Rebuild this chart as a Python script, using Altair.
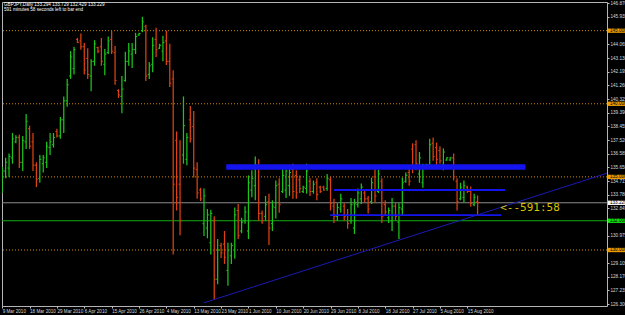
import altair as alt
import pandas as pd

# ---------------- data ----------------
opens = [134.3, 135.4, 135.6, 136.3, 137.4, 137.7, 136.0, 137.4, 138.3, 137.4,
         135.8, 134.9, 135.9, 136.0, 137.0, 137.2, 138.1, 137.8, 138.9, 140.2,
         141.9, 142.4, 144.4, 144.3, 143.9, 143.1, 141.9, 142.9, 143.85, 143.9,
         142.7, 143.5, 144.4, 143.5, 140.9, 140.5, 141.6, 142.9, 143.4, 143.7,
         144.7, 145.0, 145.3, 142.0, 142.7, 144.4, 143.8, 143.6, 144.3, 142.9,
         141.7, 137.5, 134.5, 136.5, 136.2, 138.9, 138.45, 135.5, 134.1, 131.8,
         131.5, 130.5, 132.0, 128.0, 130.3, 130.4, 128.6, 129.6, 130.0, 132.7,
         131.3, 132.0, 131.3, 134.1, 134.4, 135.7, 132.5, 132.3, 133.3, 131.8,
         132.9, 134.5, 134.0, 134.1, 134.4, 135.5, 135.1, 134.8, 134.0, 134.2,
         134.7, 134.0, 134.6, 134.3, 134.3, 134.2, 134.8, 133.0, 132.3, 132.8,
         133.0, 132.4, 132.0, 131.5, 133.1, 133.5, 133.9, 133.5, 133.3, 135.0,
         134.0, 134.7, 133.1, 132.2, 132.0, 133.0, 131.9, 132.8, 134.7, 135.3,
         136.9, 137.2, 135.2, 134.6, 135.6, 135.8, 137.3, 137.0, 136.8, 135.8,
         136.15, 136.15, 136.3, 134.7, 133.5, 133.6, 134.3, 134.0, 133.1, 133.294]
highs = [135.7, 136.3, 136.6, 138.0, 137.85, 137.9, 137.8, 139.3, 138.5, 138.0,
         136.0, 136.5, 136.5, 137.4, 138.0, 138.0, 138.3, 139.1, 140.5, 141.7,
         143.6, 143.9, 144.5, 144.8, 144.15, 143.8, 143.05, 144.35, 143.9, 144.5,
         143.75, 144.6, 145.0, 143.95, 141.0, 141.9, 143.55, 144.15, 144.15, 144.85,
         144.85, 145.95, 145.4, 142.85, 144.55, 145.2, 144.1, 144.65, 145.0, 144.1,
         142.3, 138.1, 137.5, 140.5, 138.0, 139.85, 139.5, 136.0, 134.25, 134.2,
         132.8, 132.75, 132.3, 130.75, 130.5, 131.3, 130.5, 130.5, 132.9, 133.15,
         132.2, 133.0, 135.1, 135.45, 136.4, 136.2, 132.7, 133.7, 133.85, 133.4,
         134.75, 134.9, 135.55, 135.75, 135.6, 135.9, 135.45, 135.1, 134.4, 135.9,
         134.9, 134.75, 134.9, 134.4, 134.4, 135.2, 135.0, 133.5, 133.2, 133.85,
         133.2, 132.8, 133.55, 133.5, 134.2, 134.55, 134.05, 133.7, 134.95, 135.6,
         135.5, 134.9, 133.4, 132.9, 133.55, 133.2, 133.2, 134.95, 135.3, 135.55,
         137.3, 137.5, 136.7, 135.9, 135.9, 137.6, 137.7, 137.35, 137.1, 136.95,
         136.35, 136.35, 136.6, 134.9, 134.6, 134.75, 134.4, 134.35, 133.85, 133.729]
lows = [133.9, 134.9, 135.0, 135.9, 137.3, 135.6, 135.4, 136.9, 136.9, 135.4,
        134.3, 134.6, 135.3, 135.6, 136.5, 137.0, 137.7, 137.6, 138.0, 139.8,
        141.7, 142.0, 144.15, 143.7, 142.0, 141.7, 140.85, 142.6, 143.45, 142.6,
        141.95, 143.4, 143.4, 141.3, 140.4, 139.35, 141.5, 142.6, 142.45, 143.4,
        144.65, 144.9, 141.55, 141.7, 142.15, 143.2, 143.75, 142.9, 142.65, 141.15,
        129.7, 132.7, 131.0, 135.9, 135.8, 137.35, 134.95, 133.5, 133.35, 130.95,
        130.8, 129.7, 126.6, 127.65, 129.45, 129.05, 127.55, 129.05, 129.4, 130.75,
        131.15, 131.8, 130.75, 133.6, 133.4, 132.0, 131.8, 132.0, 130.35, 131.3,
        132.15, 132.55, 133.9, 133.55, 133.7, 133.5, 133.5, 133.9, 133.9, 133.85,
        133.7, 133.85, 133.4, 133.9, 134.05, 134.05, 132.7, 131.85, 132.0, 132.55,
        132.0, 131.45, 131.8, 131.1, 132.9, 133.15, 133.25, 132.5, 133.15, 133.25,
        133.9, 131.85, 132.35, 131.85, 131.3, 132.0, 130.75, 132.35, 134.6, 134.4,
        135.25, 135.45, 134.6, 134.25, 135.55, 135.6, 136.1, 135.8, 135.9, 135.45,
        136.1, 136.1, 134.75, 132.7, 133.4, 133.25, 133.9, 132.95, 133.0, 132.429]
closes = [135.4, 136.0, 136.4, 137.6, 137.7, 136.0, 137.5, 138.8, 137.1, 135.8,
          134.8, 136.2, 136.3, 137.1, 137.4, 137.7, 137.8, 138.9, 140.2, 141.3,
          143.2, 143.7, 144.2, 143.9, 142.3, 142.0, 142.9, 144.1, 143.6, 142.9,
          143.4, 144.3, 143.6, 141.6, 140.6, 141.0, 142.9, 143.6, 143.7, 144.6,
          144.8, 145.6, 141.9, 142.6, 144.0, 143.7, 144.0, 144.2, 142.9, 141.4,
          134.5, 133.6, 132.0, 138.5, 137.7, 137.6, 135.6, 133.9, 133.5, 133.7,
          132.4, 132.5, 128.0, 130.0, 129.8, 129.5, 130.0, 130.3, 132.4, 131.0,
          131.9, 132.6, 134.6, 134.9, 135.8, 132.5, 132.0, 133.1, 131.5, 133.0,
          134.4, 133.1, 135.1, 135.4, 135.3, 134.0, 133.9, 134.2, 134.3, 135.4,
          134.0, 134.5, 133.8, 134.0, 134.1, 134.9, 133.2, 132.3, 132.9, 133.5,
          132.3, 131.8, 133.1, 133.2, 133.9, 134.3, 133.5, 132.8, 134.6, 133.7,
          135.2, 132.3, 132.6, 132.7, 133.0, 132.3, 132.9, 134.6, 135.1, 134.7,
          135.6, 135.9, 136.3, 135.6, 135.8, 137.2, 136.4, 136.2, 136.1, 136.7,
          136.3, 136.3, 135.0, 133.3, 134.3, 134.4, 134.0, 133.2, 133.6, 133.229]

date_ticks = [0, 8, 16, 24, 32, 40, 48, 56, 64, 72, 80, 88, 96, 104, 112, 120, 128, 136]
date_labels = ["9 Mar 2010", "18 Mar 2010", "29 Mar 2010", "6 Apr 2010", "15 Apr 2010",
               "26 Apr 2010", "4 May 2010", "13 May 2010", "23 May 2010", "1 Jun 2010",
               "10 Jun 2010", "20 Jun 2010", "29 Jun 2010", "8 Jul 2010", "18 Jul 2010",
               "27 Jul 2010", "5 Aug 2010", "15 Aug 2010"]

price_ticks = [126.300, 127.235, 128.170, 129.105, 130.975, 132.845, 133.780, 134.715,
               135.650, 136.585, 137.520, 138.455, 139.390, 140.325, 141.260, 142.195,
               143.130, 144.065, 145.935, 146.870]

round_levels = [145.0, 140.0, 135.0, 130.0]
bid_price = 133.229
alert_price = 132.0

# drawn objects (bar index, price)
zone_k1 = [65.5, 97.0, 95.9]
zone_k2 = [153.0, 147.0, 145.9]
zone_lo = [135.49, 134.03, 132.32]
zone_hi = [135.86, 134.17, 132.45]
trend_k = [59.0, 176.84]
trend_p = [126.39, 135.25]

header1 = "GBPJPY,Daily  133.294 133.729 132.429 133.229"
header2 = "591 minutes 58 seconds left to bar end"
countdown = "<--591:58"

# ---------------- styling ----------------
GREEN = "#1cc41c"
RED = "#dc4212"
ORANGE = "#d08a00"
FONT = "Liberation Sans"
FS = 4.6

n = len(opens)
bars = pd.DataFrame({
    "k": list(range(n)), "o": opens, "h": highs, "l": lows, "c": closes,
})
bars["dir"] = ["up" if c >= o else "down" for o, c in zip(opens, closes)]
bars["kl"] = bars["k"] - 0.45
bars["kr"] = bars["k"] + 0.45

xs = alt.Scale(domain=[-0.06, 176.84], nice=False, zero=False)
ys = alt.Scale(domain=[126.17, 146.96], nice=False, zero=False)

label_expr = "[" + ",".join("'%s'" % s for s in date_labels) + "][indexof([" + \
    ",".join(str(t) for t in date_ticks) + "], datum.value)]"

x_axis = alt.Axis(values=date_ticks, labelExpr=label_expr, orient="bottom", title=None,
                  labelAlign="left", labelBaseline="top", labelPadding=0.5, tickSize=2,
                  labelFontSize=FS, labelFont=FONT, labelColor="#d8d8d8", tickColor="#c0c0c0",
                  domain=False, grid=False, labelFlush=False, labelOverlap=False)
y_axis = alt.Axis(values=price_ticks, format=".3f", orient="right", title=None,
                  labelAlign="left", labelBaseline="middle", labelPadding=1, tickSize=2,
                  labelFontSize=FS, labelFont=FONT, labelColor="#d8d8d8", tickColor="#c0c0c0",
                  domain=False, grid=False, labelOverlap=False, labelFlush=False)


def X(field):
    return alt.X(field, scale=xs, axis=x_axis)


def Y(field):
    return alt.Y(field, scale=ys, axis=y_axis)


color = alt.Color("dir:N", scale=alt.Scale(domain=["up", "down"], range=[GREEN, RED]), legend=None)

base = alt.Chart(bars)
hl = base.mark_rule(strokeWidth=1.25, clip=True).encode(
    x=X("k:Q"), y=Y("l:Q"), y2="h:Q", color=color)
otick = base.mark_rule(strokeWidth=1, clip=True).encode(
    x=X("kl:Q"), x2="k:Q", y=Y("o:Q"), color=color)
ctick = base.mark_rule(strokeWidth=1, clip=True).encode(
    x=X("k:Q"), x2="kr:Q", y=Y("c:Q"), color=color)

levels = pd.DataFrame({"p": round_levels})
lev_rules = alt.Chart(levels).mark_rule(color=ORANGE, strokeDash=[1, 2], strokeWidth=1).encode(
    y=Y("p:Q"))

bid_rule = alt.Chart(pd.DataFrame({"p": [bid_price]})).mark_rule(
    color="#8c8c8c", strokeWidth=1).encode(y=Y("p:Q"))
alert_rule = alt.Chart(pd.DataFrame({"p": [alert_price]})).mark_rule(
    color="#10b010", strokeWidth=1).encode(y=Y("p:Q"))

zones = pd.DataFrame({"k1": zone_k1, "k2": zone_k2, "lo": zone_lo, "hi": zone_hi})
zone_rects = alt.Chart(zones).mark_rect(color="#1414f0", clip=True).encode(
    x=X("k1:Q"), x2="k2:Q", y=Y("lo:Q"), y2="hi:Q")

trend = pd.DataFrame({"k": [trend_k[0]], "k2": [trend_k[1]], "p": [trend_p[0]], "p2": [trend_p[1]]})
trend_rule = alt.Chart(trend).mark_rule(color="#1a1ab4", strokeWidth=1, clip=True).encode(
    x=X("k:Q"), x2="k2:Q", y=Y("p:Q"), y2="p2:Q")


# price tags on the right axis
def tag_layers(prices, bg):
    df = pd.DataFrame({"p": prices})
    df["lo"] = df["p"] - 0.15
    df["hi"] = df["p"] + 0.15
    df["txt"] = ["%.3f" % v for v in df["p"]]
    r = alt.Chart(df).mark_rect(color=bg).encode(
        x=alt.value(606), x2=alt.value(624), y=Y("lo:Q"), y2="hi:Q")
    t = alt.Chart(df).mark_text(align="left", baseline="middle", fontSize=FS, font=FONT,
                                color="#000000").encode(
        x=alt.value(608), y=Y("p:Q"), text="txt:N")
    return [r, t]


tags = (tag_layers(round_levels, "#e89a00") + tag_layers([bid_price], "#f4f4f4")
        + tag_layers([alert_price], "#10e010"))

head1 = alt.Chart(pd.DataFrame({"t": [header1]})).mark_text(
    align="left", baseline="middle", fontSize=FS, font=FONT, color="#ffffff").encode(
    x=alt.value(2), y=alt.value(3), text="t:N")
head2 = alt.Chart(pd.DataFrame({"t": [header2]})).mark_text(
    align="left", baseline="middle", fontSize=FS, font=FONT, color="#ffffff").encode(
    x=alt.value(2), y=alt.value(7.5), text="t:N")

cd = alt.Chart(pd.DataFrame({"k": [145.6], "p": [132.87], "t": [countdown]})).mark_text(
    align="left", baseline="middle", fontSize=11, font="DejaVu Sans Mono", color="#d8c400").encode(
    x=X("k:Q"), y=Y("p:Q"), text="t:N")

chart = alt.layer(
    lev_rules, bid_rule, alert_rule, hl, otick, ctick, zone_rects, trend_rule,
    *tags, head1, head2, cd
).properties(
    width=605, height=304,
    autosize=alt.AutoSizeParams(type="none"),
    padding={"left": 2, "top": 2, "right": 18, "bottom": 9},
    background="#000000",
).configure_view(stroke="#b4b4b4", strokeWidth=1, fill="#000000")

chart.save("out.html", embed_options={"renderer": "svg", "actions": False})
